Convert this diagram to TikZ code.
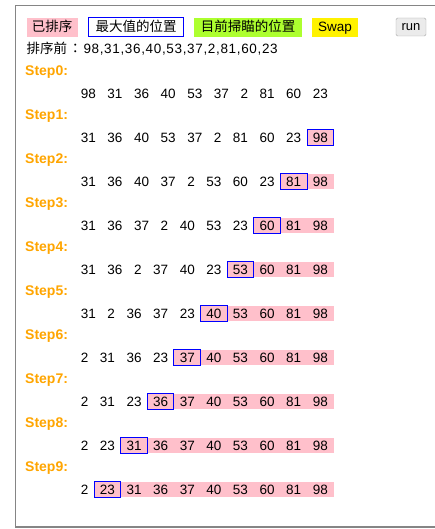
\documentclass[tikz,border=0pt]{standalone}
\usepackage{fontspec}
\usetikzlibrary{backgrounds}
\setmainfont{Liberation Sans}
\newfontfamily\cjk{Noto Sans CJK TC}
\definecolor{sortpink}{HTML}{FFC0CB}
\definecolor{scangreen}{HTML}{ADFF2F}
\definecolor{stepor}{HTML}{FFA500}
\definecolor{framegray}{HTML}{858585}
\definecolor{btnfill}{HTML}{EBEBEB}
\definecolor{btnline}{HTML}{A8A8A8}
\tikzset{
  basefont/.style={font=\fontsize{13.5pt}{16pt}\selectfont},
  numcell/.style={basefont, inner xsep=5.6pt, inner ysep=0pt, text height=9.7pt, text depth=0pt, minimum height=15pt},
  donefill/.style={fill=sortpink},
  maxbox/.style={draw=blue, line width=1pt},
  steplbl/.style={font=\fontsize{14pt}{16pt}\selectfont\bfseries, text=stepor, anchor=west, inner sep=0pt, text height=10pt, text depth=0pt},
  legbox/.style={basefont, inner sep=0pt, minimum height=19pt, text height=10pt, text depth=1pt},
  runbtn/.style={font=\fontsize{13pt}{15pt}\selectfont, fill=btnfill, draw=btnline, inner sep=0pt, minimum width=30pt, minimum height=18pt, rounded corners=1.5pt, text height=9pt, text depth=1pt}
}
\newcommand\sortrow[3]{%
  \pgfmathsetmacro\rowy{93.5+44*#1}%
  \node[anchor=east, inner sep=0pt, minimum size=0pt] (r#1n0) at (75,\rowy) {};
  \foreach \v [count=\i, remember=\i as \j (initially 0)] in {#2} {%
    \node[numcell, anchor=west] (r#1n\i) at (r#1n\j.east) {\v};
  }
  \ifnum#3<11\relax
    \begin{pgfonlayer}{background}
      \fill[donefill] (r#1n#3.south west) rectangle (r#1n10.north east);
    \end{pgfonlayer}
    \draw[maxbox] (r#1n#3.south west) rectangle (r#1n#3.north east);
  \fi
}
\begin{document}
\begin{tikzpicture}[x=1pt,y=-1pt]
\useasboundingbox (0,0) rectangle (435,529);
\draw[framegray, line width=1.5pt] (445,5.5) -- (15.5,5.5) -- (15.5,527) -- (445,527);
% legend
\node[legbox, fill=sortpink, minimum width=51pt] (lg1) at (52.2,27.5) {\cjk 已排序};
\node[legbox, draw=blue, line width=1pt, minimum width=95pt] (lg2) at (136,27.5) {\cjk 最大值的位置};
\node[legbox, fill=scangreen, minimum width=108pt] (lg3) at (248,27.5) {\cjk 目前掃瞄的位置};
\node[legbox, fill=yellow, minimum width=46pt] (lg4) at (335,27.5) {Swap};
\node[runbtn] (run) at (411,27) {run};
% original list
\node[basefont, anchor=base west, inner sep=0pt] (pre) at (26.5,54) {{\cjk 排序前}\makebox[16.3pt][c]{\cjk ：}{\addfontfeature{LetterSpace=4.9}98,31,36,40,53,37,2,81,60,23}};
% step labels
\foreach \k in {0,...,9} {
  \node[steplbl] (st\k) at (25,{70.5+44*\k}) {Step\k:};
}
% rows
\sortrow{0}{98,31,36,40,53,37,2,81,60,23}{11}
\sortrow{1}{31,36,40,53,37,2,81,60,23,98}{10}
\sortrow{2}{31,36,40,37,2,53,60,23,81,98}{9}
\sortrow{3}{31,36,37,2,40,53,23,60,81,98}{8}
\sortrow{4}{31,36,2,37,40,23,53,60,81,98}{7}
\sortrow{5}{31,2,36,37,23,40,53,60,81,98}{6}
\sortrow{6}{2,31,36,23,37,40,53,60,81,98}{5}
\sortrow{7}{2,31,23,36,37,40,53,60,81,98}{4}
\sortrow{8}{2,23,31,36,37,40,53,60,81,98}{3}
\sortrow{9}{2,23,31,36,37,40,53,60,81,98}{2}
\end{tikzpicture}
\end{document}
